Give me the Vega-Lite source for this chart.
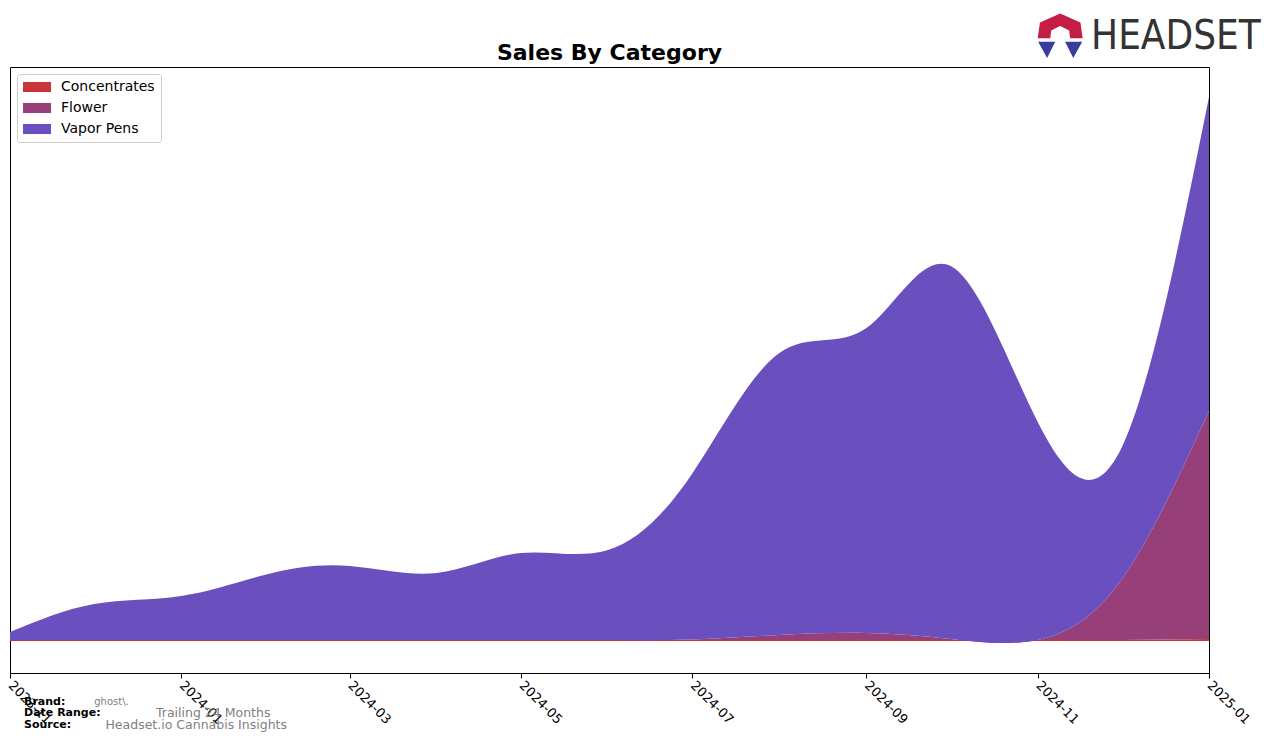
{
  "$schema": "https://vega.github.io/schema/vega-lite/v6.json",
  "width": 1199,
  "height": 606,
  "autosize": {"type": "none"},
  "padding": {"left": 10, "top": 67, "right": 67, "bottom": 70},
  "background": "white",
  "title": {"text": "Sales By Category", "font": "DejaVu Sans", "fontSize": 22, "fontWeight": "bold", "color": "black", "anchor": "middle", "frame": "group", "offset": 5, "dy": 56},
  "config": {"view": {"stroke": "black", "strokeWidth": 1}, "font": "DejaVu Sans"},
  "data": {"values": [
    {"date": "2023-11-01", "category": "Concentrates", "sales": 1},
    {"date": "2023-12-01", "category": "Concentrates", "sales": 1},
    {"date": "2024-01-01", "category": "Concentrates", "sales": 1},
    {"date": "2024-02-01", "category": "Concentrates", "sales": 1},
    {"date": "2024-03-01", "category": "Concentrates", "sales": 1},
    {"date": "2024-04-01", "category": "Concentrates", "sales": 1},
    {"date": "2024-05-01", "category": "Concentrates", "sales": 1},
    {"date": "2024-06-01", "category": "Concentrates", "sales": 1},
    {"date": "2024-07-01", "category": "Concentrates", "sales": 1},
    {"date": "2024-08-01", "category": "Concentrates", "sales": 1},
    {"date": "2024-09-01", "category": "Concentrates", "sales": 1},
    {"date": "2024-10-01", "category": "Concentrates", "sales": 1},
    {"date": "2024-11-01", "category": "Concentrates", "sales": 1},
    {"date": "2024-12-01", "category": "Concentrates", "sales": 1},
    {"date": "2025-01-01", "category": "Concentrates", "sales": 2},
    {"date": "2023-11-01", "category": "Flower", "sales": 0},
    {"date": "2023-12-01", "category": "Flower", "sales": 0},
    {"date": "2024-01-01", "category": "Flower", "sales": 0},
    {"date": "2024-02-01", "category": "Flower", "sales": 0},
    {"date": "2024-03-01", "category": "Flower", "sales": 0},
    {"date": "2024-04-01", "category": "Flower", "sales": 0},
    {"date": "2024-05-01", "category": "Flower", "sales": 0},
    {"date": "2024-06-01", "category": "Flower", "sales": 0},
    {"date": "2024-07-01", "category": "Flower", "sales": 0.5},
    {"date": "2024-08-01", "category": "Flower", "sales": 5},
    {"date": "2024-09-01", "category": "Flower", "sales": 7},
    {"date": "2024-10-01", "category": "Flower", "sales": 1},
    {"date": "2024-11-01", "category": "Flower", "sales": 0},
    {"date": "2024-12-01", "category": "Flower", "sales": 61},
    {"date": "2025-01-01", "category": "Flower", "sales": 228},
    {"date": "2023-11-01", "category": "Vapor Pens", "sales": 8},
    {"date": "2023-12-01", "category": "Vapor Pens", "sales": 36},
    {"date": "2024-01-01", "category": "Vapor Pens", "sales": 44},
    {"date": "2024-02-01", "category": "Vapor Pens", "sales": 66},
    {"date": "2024-03-01", "category": "Vapor Pens", "sales": 74},
    {"date": "2024-04-01", "category": "Vapor Pens", "sales": 67},
    {"date": "2024-05-01", "category": "Vapor Pens", "sales": 87},
    {"date": "2024-06-01", "category": "Vapor Pens", "sales": 90},
    {"date": "2024-07-01", "category": "Vapor Pens", "sales": 166},
    {"date": "2024-08-01", "category": "Vapor Pens", "sales": 282},
    {"date": "2024-09-01", "category": "Vapor Pens", "sales": 305},
    {"date": "2024-10-01", "category": "Vapor Pens", "sales": 373},
    {"date": "2024-11-01", "category": "Vapor Pens", "sales": 218},
    {"date": "2024-12-01", "category": "Vapor Pens", "sales": 132},
    {"date": "2025-01-01", "category": "Vapor Pens", "sales": 314}
  ]},
  "layer": [
    {
      "mark": {"type": "area", "interpolate": "natural", "opacity": 1},
      "encoding": {
        "x": {"field": "date", "type": "temporal",
          "scale": {"type": "utc", "domain": [{"year": 2023, "month": 11, "date": 1, "utc": true}, {"year": 2025, "month": 1, "date": 1, "utc": true}]},
          "axis": {"title": null, "format": "%Y-%m", "grid": false, "domain": false,
            "values": [
              {"year": 2023, "month": 11, "date": 1, "utc": true},
              {"year": 2024, "month": 1, "date": 1, "utc": true},
              {"year": 2024, "month": 3, "date": 1, "utc": true},
              {"year": 2024, "month": 5, "date": 1, "utc": true},
              {"year": 2024, "month": 7, "date": 1, "utc": true},
              {"year": 2024, "month": 9, "date": 1, "utc": true},
              {"year": 2024, "month": 11, "date": 1, "utc": true},
              {"year": 2025, "month": 1, "date": 1, "utc": true}
            ],
            "tickColor": "black", "tickSize": 5, "tickWidth": 1,
            "labelAngle": 45, "labelAlign": "left", "labelBaseline": "middle", "labelDx": 4,
            "labelFont": "DejaVu Sans", "labelFontSize": 13, "labelColor": "black", "labelPadding": 5,
            "labelOverlap": false, "labelBound": false, "labelFlush": false}},
        "y": {"field": "sales", "type": "quantitative", "stack": "zero",
          "scale": {"domain": [-32, 574], "nice": false, "zero": false}, "axis": null},
        "order": {"field": "category", "sort": "ascending"},
        "color": {"field": "category", "type": "nominal",
          "scale": {"domain": ["Concentrates", "Flower", "Vapor Pens"], "range": ["#c8363a", "#963f78", "#6a4fbe"]},
          "legend": {"orient": "top-left", "offset": 7, "title": null,
            "symbolType": "M-2,-0.72H2V0.72H-2Z", "symbolSize": 196, "symbolOffset": 7, "symbolStrokeWidth": 0, "symbolOpacity": 1,
            "labelFont": "DejaVu Sans", "labelFontSize": 14, "labelColor": "black", "labelOffset": 17,
            "padding": 6, "rowPadding": 7, "strokeColor": "#cccccc", "fillColor": "#ffffff", "cornerRadius": 3}}
      }
    },
    {
      "data": {"values": [{}]},
      "mark": {"type": "text", "align": "left", "baseline": "middle", "font": "DejaVu Sans", "fontWeight": "bold", "fontSize": 11, "color": "black"},
      "encoding": {
        "x": {"datum": {"year": 2023, "month": 11, "date": 6, "utc": true}, "type": "temporal"},
        "y": {"datum": -61, "type": "quantitative"},
        "text": {"value": "Brand:"}
      }
    },
    {
      "data": {"values": [{}]},
      "mark": {"type": "text", "align": "left", "baseline": "middle", "font": "DejaVu Sans", "fontWeight": "bold", "fontSize": 11, "color": "black"},
      "encoding": {
        "x": {"datum": {"year": 2023, "month": 11, "date": 6, "utc": true}, "type": "temporal"},
        "y": {"datum": -72, "type": "quantitative"},
        "text": {"value": "Date Range:"}
      }
    },
    {
      "data": {"values": [{}]},
      "mark": {"type": "text", "align": "left", "baseline": "middle", "font": "DejaVu Sans", "fontWeight": "bold", "fontSize": 11, "color": "black"},
      "encoding": {
        "x": {"datum": {"year": 2023, "month": 11, "date": 6, "utc": true}, "type": "temporal"},
        "y": {"datum": -84, "type": "quantitative"},
        "text": {"value": "Source:"}
      }
    },
    {
      "data": {"values": [{}]},
      "mark": {"type": "text", "align": "left", "baseline": "middle", "font": "DejaVu Sans", "fontSize": 10, "color": "#808080"},
      "encoding": {
        "x": {"datum": {"year": 2023, "month": 12, "date": 1, "utc": true}, "type": "temporal"},
        "y": {"datum": -61, "type": "quantitative"},
        "text": {"value": "ghost\\."}
      }
    },
    {
      "data": {"values": [{}]},
      "mark": {"type": "text", "align": "left", "baseline": "middle", "font": "DejaVu Sans", "fontSize": 12.5, "color": "#808080"},
      "encoding": {
        "x": {"datum": {"year": 2023, "month": 12, "date": 23, "utc": true}, "type": "temporal"},
        "y": {"datum": -72, "type": "quantitative"},
        "text": {"value": "Trailing 24 Months"}
      }
    },
    {
      "data": {"values": [{}]},
      "mark": {"type": "text", "align": "left", "baseline": "middle", "font": "DejaVu Sans", "fontSize": 12.5, "color": "#808080"},
      "encoding": {
        "x": {"datum": {"year": 2023, "month": 12, "date": 5, "utc": true}, "type": "temporal"},
        "y": {"datum": -84, "type": "quantitative"},
        "text": {"value": "Headset.io Cannabis Insights"}
      }
    },
    {
      "data": {"values": [{}]},
      "mark": {"type": "text", "align": "left", "baseline": "middle", "font": "DejaVu Sans Condensed, Liberation Sans Narrow, sans-serif", "fontSize": 40, "color": "#333333"},
      "encoding": {
        "x": {"datum": {"year": 2024, "month": 11, "date": 20, "utc": true}, "type": "temporal"},
        "y": {"datum": 604, "type": "quantitative"},
        "text": {"value": "HEADSET"}
      }
    },
    {
      "data": {"values": [{}]},
      "mark": {"type": "point", "filled": true, "opacity": 1, "color": "#c41e47", "size": 2025,
        "shape": "M-1,0.1L-0.9,-0.6L0,-1L0.9,-0.6L1,0.1L0.44,0.1L0.4,-0.24L0,-0.44L-0.4,-0.24L-0.44,0.1Z"},
      "encoding": {
        "x": {"datum": {"year": 2024, "month": 11, "date": 9, "utc": true}, "type": "temporal"},
        "y": {"datum": 605, "type": "quantitative"}
      }
    },
    {
      "data": {"values": [{}]},
      "mark": {"type": "point", "filled": true, "opacity": 1, "color": "#3b3a9e", "size": 2025,
        "shape": "M-0.98,0.26L-0.22,0.26L-0.58,0.98Z M0.22,0.26L0.98,0.26L0.58,0.98Z"},
      "encoding": {
        "x": {"datum": {"year": 2024, "month": 11, "date": 9, "utc": true}, "type": "temporal"},
        "y": {"datum": 605, "type": "quantitative"}
      }
    }
  ]
}
